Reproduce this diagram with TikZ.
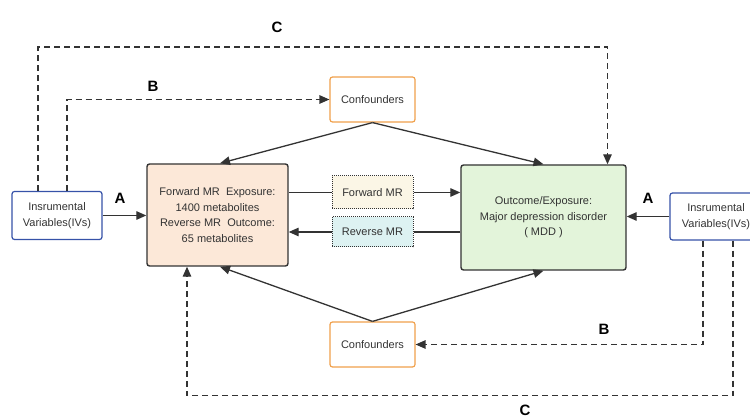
\documentclass[tikz,border=0pt]{standalone}
\usepackage{fontspec}
\setmainfont{Liberation Sans}
\usetikzlibrary{arrows.meta}
\definecolor{ink}{HTML}{333333}
\definecolor{ivblue}{HTML}{3652A8}
\definecolor{cforange}{HTML}{F0A04B}
\definecolor{peach}{HTML}{FCE8D8}
\definecolor{mint}{HTML}{E3F4DA}
\definecolor{cream}{HTML}{FBF6E6}
\definecolor{aqua}{HTML}{DDF2F2}
\begin{document}
\begin{tikzpicture}[x=1pt,y=-1pt,
  font=\fontsize{11}{15.5}\selectfont, text=ink,
  box/.style={draw, rounded corners=2.5pt, align=center, inner sep=1pt},
  ivbox/.style={box, draw=ivblue, line width=1.2pt, minimum width=90pt, minimum height=48pt},
  cfbox/.style={box, draw=cforange, line width=1.2pt, minimum width=85pt, minimum height=45pt},
  mainbox/.style={box, draw=ink, line width=1.4pt},
  mrbox/.style={draw=ink, densely dotted, line width=1pt, minimum width=81pt, align=center},
  lnk/.style={draw=ink, line width=1.3pt},
  arr/.style={lnk, -{Triangle[length=10pt,width=8.5pt]}},
  dsh/.style={arr, dash pattern=on 6pt off 4pt},
  lab/.style={font=\fontsize{15}{15}\bfseries\selectfont, text=black}]
\useasboundingbox (0,0) rectangle (750,419);
\node[ivbox] (liv) at (57,215.5) {Insrumental\\Variables(IVs)};
\node[ivbox, minimum width=92pt, minimum height=47pt] (riv) at (716,216.5) {Insrumental\\Variables(IVs)};
\node[mainbox, fill=peach, minimum width=141pt, minimum height=102pt] (lm) at (217.5,215)
  {Forward MR\ \ Exposure:\\1400 metabolites\\Reverse MR\ \ Outcome:\\65 metabolites};
\node[mainbox, fill=mint, minimum width=165pt, minimum height=105pt] (rm) at (543.5,217.5)
  {Outcome/Exposure:\\Major depression disorder\\(\ MDD\ )};
\node[cfbox] (tc) at (372.5,99.5) {Confounders};
\node[cfbox] (bc) at (372.5,344.5) {Confounders};
\node[mrbox, fill=cream, minimum height=33pt] (fw) at (372.5,192.5) {Forward MR};
\node[mrbox, fill=aqua, minimum height=30pt] (rv) at (372.5,232) {Reverse MR};
% solid links
\draw[lnk] (lm.east |- fw) -- (fw.west);
\draw[arr] (fw.east) -- (rm.west |- fw);
\draw[lnk] (rm.west |- rv) -- (rv.east);
\draw[arr] (rv.west) -- (lm.east |- rv);
\draw[arr] (liv.east) -- (lm.west |- liv);
\draw[arr] (riv.west) -- (rm.east |- riv);
\draw[arr] (tc.south) -- ([xshift=2.5]lm.north);
\draw[arr] (tc.south) -- (rm.north);
\draw[arr] (bc.north) -- ([xshift=2.5]lm.south);
\draw[arr] (bc.north) -- (rm.south);
% dashed paths
\draw[dsh] ([xshift=-19]liv.north) -- ++(0,-144) -| ([xshift=64]rm.north);
\draw[dsh] ([xshift=10]liv.north) |- (tc.west);
\draw[dsh] ([xshift=-13]riv.south) |- (bc.east);
\draw[dsh] ([xshift=17]riv.south) -- ++(0,155) -| ([xshift=-30.5]lm.south);
\node[lab] (c1) at (277,27) {C};
\node[lab] (b1) at (153,86) {B};
\node[lab] (a1) at (120,198) {A};
\node[lab] (a2) at (648,198) {A};
\node[lab] (b2) at (604,329) {B};
\node[lab] (c2) at (525,410) {C};
\end{tikzpicture}
\end{document}
